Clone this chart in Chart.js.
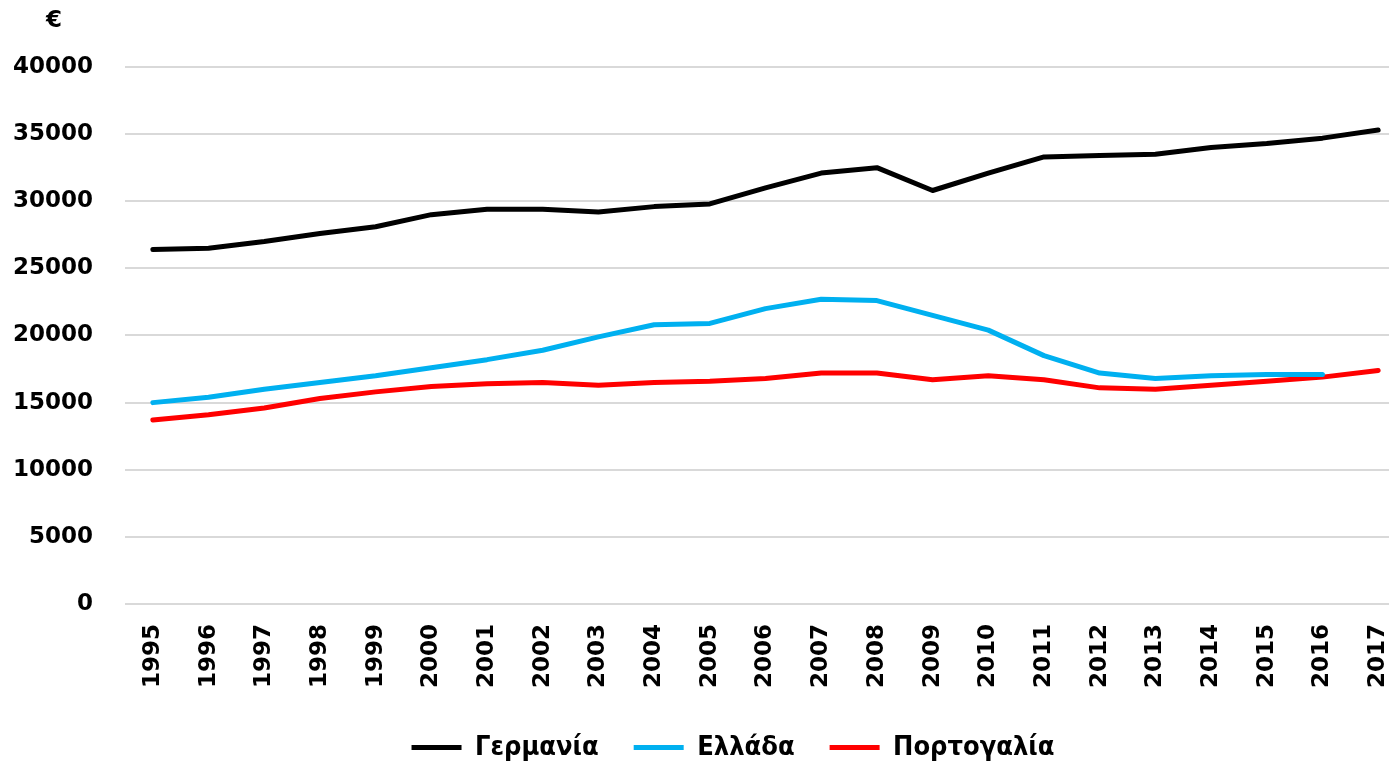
<!DOCTYPE html>
<html>
<head>
<meta charset="utf-8">
<script src="https://cdn.jsdelivr.net/npm/chart.js@4"></script>
<style>
html,body{margin:0;padding:0;background:#fff;overflow:hidden;}
#wrap{width:1466px;height:764px;position:relative;}
</style>
</head>
<body>
<div id="wrap"><canvas id="c"></canvas></div>
<script>
const years = ['1995','1996','1997','1998','1999','2000','2001','2002','2003','2004','2005','2006','2007','2008','2009','2010','2011','2012','2013','2014','2015','2016','2017'];
const germany = [26400,26500,27000,27600,28100,29000,29400,29400,29200,29600,29800,31000,32100,32500,30800,32100,33300,33400,33500,34000,34300,34700,35300];
const greece = [15000,15400,16000,16500,17000,17600,18200,18900,19900,20800,20900,22000,22700,22600,21500,20400,18500,17200,16800,17000,17100,17100,null];
const portugal = [13700,14100,14600,15300,15800,16200,16400,16500,16300,16500,16600,16800,17200,17200,16700,17000,16700,16100,16000,16300,16600,16900,17400];
const seriesNames = ['Γερμανία','Ελλάδα','Πορτογαλία'];
const yTicks = [0,5000,10000,15000,20000,25000,30000,35000,40000];
const unitLabel = '€';

const tickFont = {family:'DejaVu Sans', weight:'bold', size:23};

const euroPlugin = {
  id:'euro',
  afterLayout(chart){
    const lg = chart.legend;
    if (lg) { const dx = 23.5, dy = -9; lg.left += dx; lg.right += dx; lg.top += dy; lg.bottom += dy; }
  },
  afterDraw(chart){
    const ctx = chart.ctx;
    ctx.save();
    ctx.font = 'bold 23px "DejaVu Sans"';
    ctx.fillStyle = '#000';
    ctx.textAlign = 'center';
    ctx.textBaseline = 'middle';
    ctx.fillText(unitLabel, chart.chartArea.left - 32 - 39, 21);
    ctx.restore();
  }
};

function ds(label, data, color){
  return {label, data, borderColor:color, backgroundColor:color, borderWidth:5, pointRadius:0, pointHoverRadius:0, tension:0, fill:false, borderCapStyle:'round', borderJoinStyle:'round', spanGaps:false};
}

new Chart(document.getElementById('c'), {
  type:'line',
  data:{
    labels:years,
    datasets:[ds(seriesNames[0], germany, '#000000'), ds(seriesNames[1], greece, '#00B0F0'), ds(seriesNames[2], portugal, '#FF0000')]
  },
  options:{
    responsive:true,
    maintainAspectRatio:false,
    animation:false,
    layout:{padding:{left:13, right:60, top:67, bottom:-16}},
    plugins:{
      tooltip:{enabled:false},
      legend:{
        position:'bottom',
        labels:{
          usePointStyle:true, pointStyle:'line', pointStyleWidth:50,
          color:'#000',
          font:{family:'"Liberation Sans Narrow", "DejaVu Sans Condensed", sans-serif', weight:'bold', size:27},
          padding:35
        }
      }
    },
    scales:{
      x:{
        offset:true,
        grid:{display:false, drawTicks:false},
        border:{display:false},
        ticks:{color:'#000', font:tickFont, maxRotation:90, minRotation:90, padding:20, autoSkip:false}
      },
      y:{
        min:0, max:40000,
        afterBuildTicks(axis){ axis.ticks = yTicks.map(v=>({value:v})); },
        afterFit(axis){ axis.width = 112; },
        grid:{color:'#d9d9d9', lineWidth:2, drawTicks:false},
        border:{display:false},
        ticks:{color:'#000', font:tickFont, padding:32, callback:(v)=>String(v)}
      }
    }
  },
  plugins:[euroPlugin]
});
</script>
</body>
</html>
